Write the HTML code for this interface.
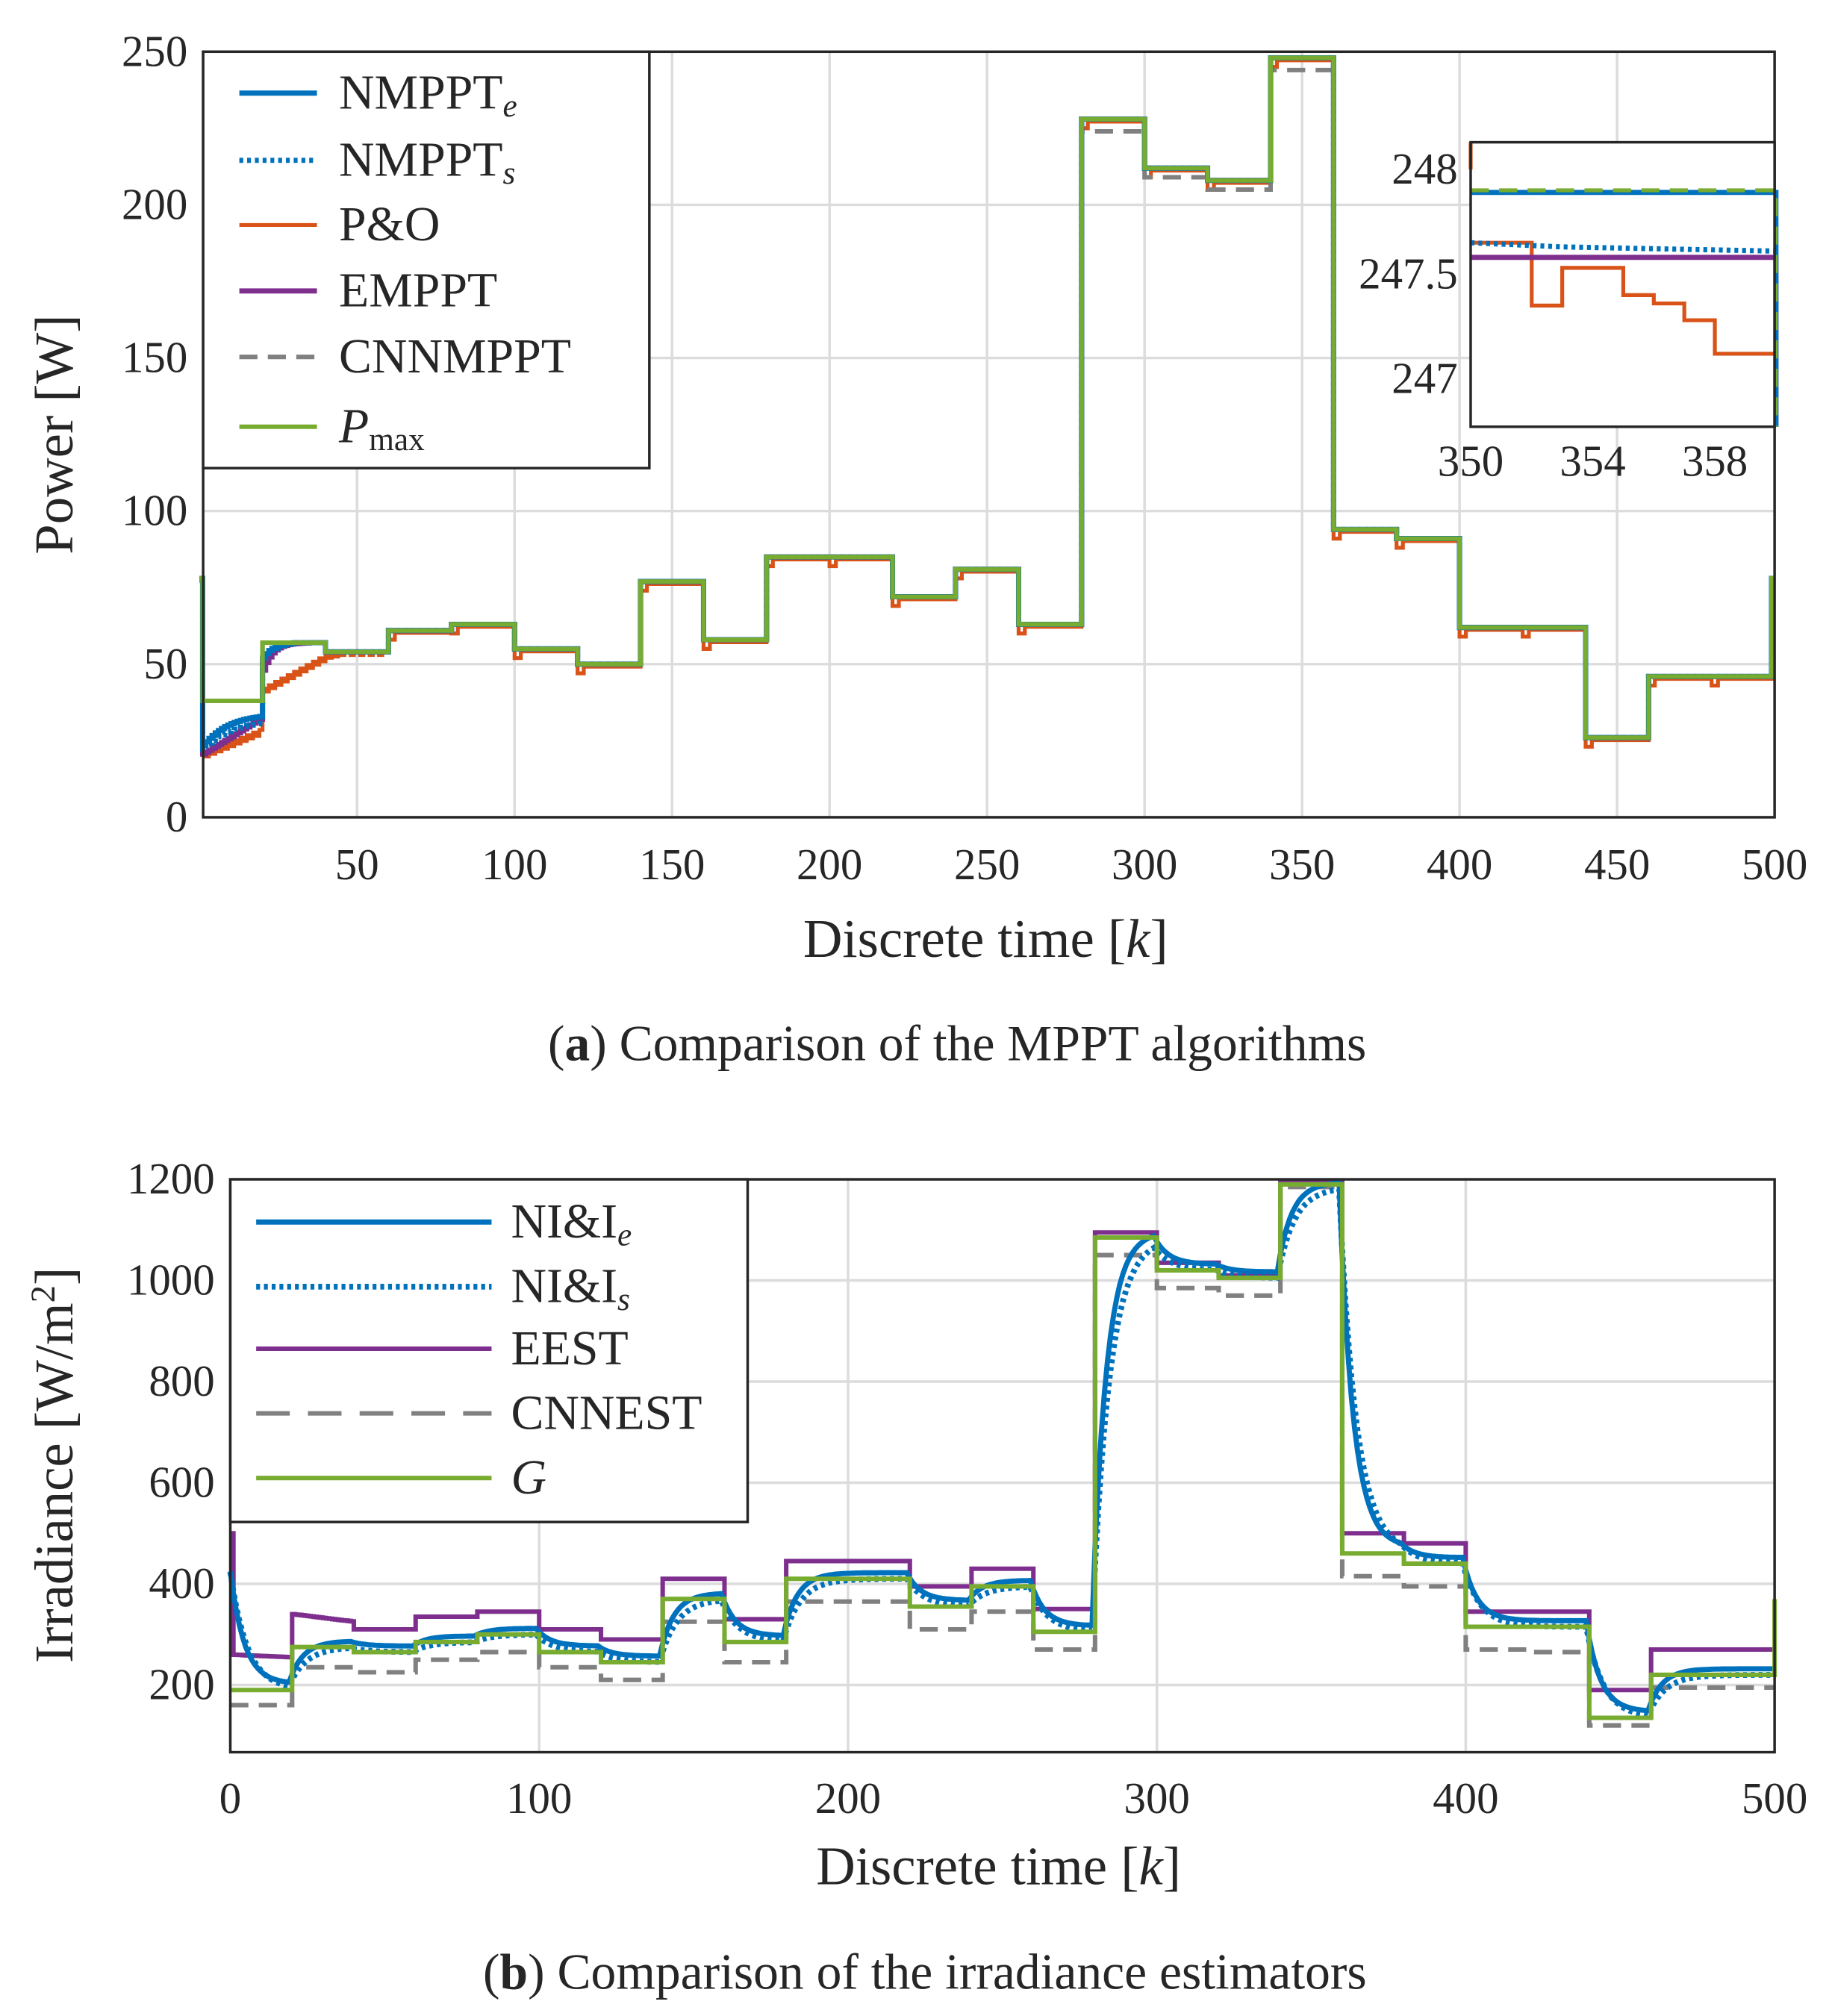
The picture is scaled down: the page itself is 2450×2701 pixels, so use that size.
<!DOCTYPE html>
<html><head><meta charset="utf-8"><style>
html,body{margin:0;padding:0;background:#fff}
svg{display:block}
text{font-family:"Liberation Serif",serif;fill:#262626}
</style></head><body>
<svg id="s" width="2450" height="2701" viewBox="0 0 1414 1559" xmlns="http://www.w3.org/2000/svg">
<rect width="1414" height="1559" fill="#fff"/>
<g id="g"></g>
<text x="740" y="820" font-size="39" text-anchor="middle">(<tspan font-weight="bold">a</tspan>) Comparison of the MPPT algorithms</text>
<text x="715" y="1538" font-size="39" text-anchor="middle">(<tspan font-weight="bold">b</tspan>) Comparison of the irradiance estimators</text>
</svg>
<script>
const NS="http://www.w3.org/2000/svg",G=document.getElementById('g');
function el(t,a,txt){const e=document.createElementNS(NS,t);for(const k in a)e.setAttribute(k,a[k]);if(txt!==undefined)e.textContent=txt;G.appendChild(e);return e;}
function step(arr){const s=[];for(let k=0;k<=500;k++){let v;for(const [a,b,val] of arr){if(k>=a&&k<b)v=val;}if(v===undefined)v=arr[arr.length-1][2];s.push(v);}return s;}
function path(xs,ys,xf,yf){let d="";for(let i=0;i<xs.length;i++){d+=(i?"L":"M")+xf(xs[i]).toFixed(1)+" "+yf(ys[i]).toFixed(1);}return d;}
function stairs(vals,xf,yf,k0){let d="";for(let i=0;i<vals.length;i++){const k=k0+i;d+=(i?"L":"M")+xf(k).toFixed(1)+" "+yf(vals[i]).toFixed(1)+"L"+xf(k+1).toFixed(1)+" "+yf(vals[i]).toFixed(1);}return d;}
const C={blue:"#0072bd",red:"#d95319",pur:"#7e2f8e",gray:"#808080",green:"#77ac30"};
const TF=34;
// ---------- Plot A ----------
const ax=k=>154.2+2.4356*k, ay=v=>632-v*2.368;
const Lx=157,Rx=1372,Ty=40,By=632;
for(let k=50;k<=500;k+=50){el('line',{x1:ax(k),x2:ax(k),y1:Ty,y2:By,stroke:"#dcdcdc","stroke-width":2});el('text',{x:ax(k),y:680,"font-size":TF,"text-anchor":"middle"},k);}
for(let v=0;v<=250;v+=50){el('line',{x1:Lx,x2:Rx,y1:ay(v),y2:ay(v),stroke:"#dcdcdc","stroke-width":2});el('text',{x:145,y:ay(v)+11,"font-size":TF,"text-anchor":"end"},v);}
const pm=[[0,1,78],[1,20,38],[20,40,57],[40,60,54],[60,80,61],[80,100,63],[100,120,55],[120,140,50],[140,160,77],[160,180,58],[180,220,85],[220,240,72],[240,260,81],[260,280,63],[280,300,228],[300,320,212],[320,340,208],[340,360,248],[360,380,94],[380,400,91],[400,440,62],[440,460,26],[460,499,46],[499,501,78]];
const P=step(pm);
const ks=[...Array(501).keys()];
let ne=P.map((v,k)=>{if(k>=1&&k<20)return 22+12*(1-Math.exp(-k/8));if(k>=20&&k<30)return 57-(57-52)*Math.exp(-(k-20)/3);return v;});
let ns=P.map((v,k)=>{if(k>=1&&k<20)return 21+11*(1-Math.exp(-k/9));if(k>=20&&k<30)return 57-(57-50)*Math.exp(-(k-20)/3);return v;});
let em=P.map((v,k)=>{if(k>=1&&k<20)return 20+12*k/19;if(k>=20&&k<35)return 57-(57-48)*Math.exp(-(k-20)/3);return v;});
let po=P.map((v,k)=>{if(k>=1&&k<20)return 19+8*k/19+(k%2)*1.5;if(k>=20&&k<45)return Math.min(v,42+(k-20)*0.55)-(k%2)*1.5;if(k>=45&&k<60)return v-(k%3==0?1:0);if(k>0&&(k%20<2)&&k>=60)return v-3;return v-0.8;});
let cn=P.map((v,k)=>{if(k>=280&&k<300)return 224;if(k>=300&&k<320)return 209;if(k>=320&&k<340)return 205;if(k>=340&&k<360)return 244;if(k>=1&&k<20)return 38;return v;});
function drawA(arr,col,w,dash){el('path',{d:stairs(arr.slice(0,500),ax,ay,0),fill:"none",stroke:col,"stroke-width":w,"stroke-dasharray":dash||"none"});}
drawA(po,C.red,3);drawA(cn,C.gray,3.5,"14 8");drawA(em,C.pur,4);drawA(ne,C.blue,4);drawA(ns,C.blue,4,"3 3");drawA(P,C.green,3.5);
el('rect',{x:Lx,y:Ty,width:Rx-Lx,height:By-Ty,fill:"none",stroke:"#262626","stroke-width":2});
el('text',{x:0,y:0,"font-size":42,"text-anchor":"middle",transform:"translate(56,336) rotate(-90)"},"Power [W]");
const tA=el('text',{x:762,y:740,"font-size":42,"text-anchor":"middle"},"Discrete time [");const it=document.createElementNS(NS,'tspan');it.setAttribute('font-style','italic');it.textContent='k';tA.appendChild(it);tA.appendChild(document.createTextNode(']'));
el('rect',{x:157,y:40,width:345,height:322,fill:"#fff",stroke:"#262626","stroke-width":2});
const legA=[["NMPPT","e",C.blue,"none",4],["NMPPT","s",C.blue,"3 3",4],["P&O","",C.red,"none",3],["EMPPT","",C.pur,"none",4],["CNNMPPT","",C.gray,"14 8",3.5],["P","max",C.green,"none",3.5]];
const ly=[72,124,174,225,276,330];
legA.forEach((L,i)=>{el('line',{x1:185,x2:245,y1:ly[i],y2:ly[i],stroke:L[2],"stroke-width":L[4],"stroke-dasharray":L[3]});
 const t=el('text',{x:262,y:ly[i]+12,"font-size":38});
 if(i==5){const a=document.createElementNS(NS,'tspan');a.setAttribute('font-style','italic');a.textContent='P';t.appendChild(a);const b=document.createElementNS(NS,'tspan');b.setAttribute('font-size',25);b.setAttribute('dy',6);b.textContent='max';t.appendChild(b);}
 else{t.appendChild(document.createTextNode(L[0]));if(L[1]){const b=document.createElementNS(NS,'tspan');b.setAttribute('font-size',25);b.setAttribute('dy',6);b.setAttribute('font-style','italic');b.textContent=L[1];t.appendChild(b);}}
});
// inset
const ix=k=>1137+23.6*(k-350), iy=v=>131-(v-248)*162;
el('rect',{x:1137,y:110,width:235,height:220,fill:"#fff"});
const poI=[[350,352,247.65],[352,353,247.35],[353,355,247.53],[355,356,247.4],[356,357,247.36],[357,358,247.28],[358,360,247.12]];
let d="";poI.forEach(([a,b,v],i)=>{d+=(i?"L":"M")+ix(a)+" "+iy(v)+"L"+ix(b)+" "+iy(v);});d+="L"+ix(360)+" 330";
el('path',{d:d,fill:"none",stroke:C.red,"stroke-width":3});
el('path',{d:`M${ix(350)} ${iy(247.58)}L${ix(360)} ${iy(247.58)}L${ix(360)} 330`,fill:"none",stroke:C.pur,"stroke-width":4});
el('path',{d:`M${ix(350)} ${iy(247.65)}L${ix(353)} ${iy(247.63)}L${ix(360)} ${iy(247.61)}`,fill:"none",stroke:C.blue,"stroke-width":4,"stroke-dasharray":"3 3"});
el('path',{d:`M${ix(350)} ${iy(247.89)}L${ix(360)} ${iy(247.89)}L${ix(360)} 330`,fill:"none",stroke:C.blue,"stroke-width":4});
el('path',{d:`M${ix(350)} ${iy(247.9)}L${ix(360)} ${iy(247.9)}L${ix(360)} 330`,fill:"none",stroke:C.green,"stroke-width":3,"stroke-dasharray":"14 8"});
el('path',{d:`M1137 ${iy(248)}V${iy(248.13)}`,stroke:C.red,"stroke-width":3});
el('rect',{x:1137,y:110,width:235,height:220,fill:"none",stroke:"#262626","stroke-width":2});
[[248,"248"],[247.5,"247.5"],[247,"247"]].forEach(([v,s])=>el('text',{x:1127,y:iy(v)+11,"font-size":TF,"text-anchor":"end"},s));
[350,354,358].forEach(k=>el('text',{x:ix(k),y:368,"font-size":TF,"text-anchor":"middle"},k));
// ---------- Plot B ----------
const bx=k=>178+2.388*k, by=v=>1303-(v-200)*0.391;
const BL=178,BR=1372,BT=912,BB=1355;
for(let k=0;k<=500;k+=100){el('line',{x1:bx(k),x2:bx(k),y1:BT,y2:BB,stroke:"#dcdcdc","stroke-width":2});el('text',{x:bx(k),y:1402,"font-size":TF,"text-anchor":"middle"},k);}
for(let v=200;v<=1200;v+=200){el('line',{x1:BL,x2:BR,y1:by(v),y2:by(v),stroke:"#dcdcdc","stroke-width":2});el('text',{x:166,y:by(v)+11,"font-size":TF,"text-anchor":"end"},v);}
const gv=[190,275,265,285,300,265,245,370,285,410,410,355,395,305,1085,1020,1005,1190,460,440,315,315,135,220,220];
const ev=[255,330,310,335,345,310,290,410,330,445,445,395,430,350,1095,1035,1010,1195,500,480,345,345,190,270,270];
const cv=[160,235,225,250,265,235,210,325,245,365,365,310,345,270,1050,985,970,1185,415,395,270,265,120,195,195];
const seg=k=>Math.min(24,Math.floor(k/20));
const Gs=ks.map(k=>k==500?370:gv[seg(k)]);
const Es=ks.map(k=>{if(k==0)return 500;if(k<20)return 260-5*k/19;if(k<40)return 340-15*(k-20)/20;return ev[seg(k)];});
const Cs=ks.map(k=>k==500?230:cv[seg(k)]);
function lag(tgtf,tau,init){const o=[];let y=init;for(let k=0;k<=500;k++){y=y+(tgtf(k)-y)*(1-Math.exp(-1/tau));o.push(y);}return o;}
const NE=lag(k=>Math.min(1195,gv[seg(k)]+12),4.5,480);
const NSs=lag(k=>Math.min(1185,gv[seg(k)]),5.5,470);
el('path',{d:stairs(Cs.slice(0,500),bx,by,0),fill:"none",stroke:C.gray,"stroke-width":3.5,"stroke-dasharray":"14 8"});
el('path',{d:stairs(Es.slice(0,500),bx,by,0),fill:"none",stroke:C.pur,"stroke-width":3.5});
el('path',{d:path(ks,NE,bx,by),fill:"none",stroke:C.blue,"stroke-width":4});
el('path',{d:path(ks,NSs,bx,by),fill:"none",stroke:C.blue,"stroke-width":4.5,"stroke-dasharray":"3 3"});
el('path',{d:stairs(Gs.slice(0,500),bx,by,0)+"L"+bx(500)+" "+by(370),fill:"none",stroke:C.green,"stroke-width":3.5});
el('rect',{x:BL,y:BT,width:BR-BL,height:BB-BT,fill:"none",stroke:"#262626","stroke-width":2});
const yl=el('text',{x:0,y:0,"font-size":42,"text-anchor":"middle",transform:"translate(56,1133) rotate(-90)"},"Irradiance [W/m");const sp=document.createElementNS(NS,'tspan');sp.setAttribute('font-size',27);sp.setAttribute('dy',-14);sp.textContent='2';yl.appendChild(sp);const sp2=document.createElementNS(NS,'tspan');sp2.setAttribute('dy',14);sp2.textContent=']';yl.appendChild(sp2);
const tB=el('text',{x:772,y:1457,"font-size":42,"text-anchor":"middle"},"Discrete time [");const it2=document.createElementNS(NS,'tspan');it2.setAttribute('font-style','italic');it2.textContent='k';tB.appendChild(it2);tB.appendChild(document.createTextNode(']'));
el('rect',{x:178,y:912,width:400,height:265,fill:"#fff",stroke:"#262626","stroke-width":2});
const legB=[["NI&I","e",C.blue,"none",4],["NI&I","s",C.blue,"3 3",4.5],["EEST","",C.pur,"none",3.5],["CNNEST","",C.gray,"26 14",3.5],["G","",C.green,"none",3.5]];
const lby=[945,995,1043,1093,1143];
legB.forEach((L,i)=>{el('line',{x1:198,x2:380,y1:lby[i],y2:lby[i],stroke:L[2],"stroke-width":L[4],"stroke-dasharray":L[3]});
 const t=el('text',{x:395,y:lby[i]+12,"font-size":38});
 if(i==4){t.setAttribute('font-style','italic');t.textContent='G';}
 else{t.appendChild(document.createTextNode(L[0]));if(L[1]){const b=document.createElementNS(NS,'tspan');b.setAttribute('font-size',25);b.setAttribute('dy',6);b.setAttribute('font-style','italic');b.textContent=L[1];t.appendChild(b);}}
});
</script>
</body></html>
